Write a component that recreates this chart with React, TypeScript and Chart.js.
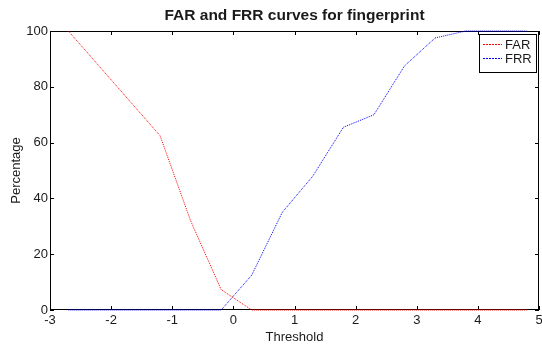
import { useEffect, useRef } from "react";
import { Chart, registerables } from "chart.js";

Chart.register(...registerables);

// Threshold values at which the error rates were sampled
const thresholds = [-2.7, -2.2, -1.7, -1.2, -0.7, -0.2, 0.3, 0.8, 1.3, 1.8, 2.3, 2.8, 3.3, 3.8, 4.3, 4.8];
// False acceptance rate (%)
const farValues = [100, 87.5, 75, 62.5, 32, 7.3, 0, 0, 0, 0, 0, 0, 0, 0, 0, 0];
// False rejection rate (%)
const frrValues = [0, 0, 0, 0, 0, 0, 12.5, 35, 48, 65.5, 70, 87.5, 97.5, 100, 100, 100];

const xTicks = [-3, -2, -1, 0, 1, 2, 3, 4, 5];
const yTicks = [0, 20, 40, 60, 80, 100];
const seriesNames = ["FAR", "FRR"];
const seriesColors = ["#ff0000", "#0000ff"];

const titleText = "FAR and FRR curves for fingerprint";
const xLabel = "Threshold";
const yLabel = "Percentage";

const FONT = "'Liberation Sans', Arial, Helvetica, sans-serif";
const TEXT = "#1a1a1a";

// Box around the axes with inward ticks on all four sides
const framePlugin = {
  id: "frame",
  beforeDatasetsDraw(chart: any) {
    const { ctx, chartArea, scales } = chart;
    const { left, right, top, bottom } = chartArea;
    ctx.save();
    ctx.strokeStyle = "#000";
    ctx.lineWidth = 1;
    ctx.strokeRect(Math.round(left) + 0.5, Math.round(top) + 0.5, Math.round(right - left) - 1, Math.round(bottom - top) - 1);
    ctx.beginPath();
    const tl = 4;
    for (const v of xTicks) {
      const px = Math.round(scales.x.getPixelForValue(v)) + 0.5;
      ctx.moveTo(px, bottom);
      ctx.lineTo(px, bottom - tl);
      ctx.moveTo(px, top);
      ctx.lineTo(px, top + tl);
    }
    for (const v of yTicks) {
      const py = Math.round(scales.y.getPixelForValue(v)) + 0.5;
      ctx.moveTo(left, py);
      ctx.lineTo(left + tl, py);
      ctx.moveTo(right, py);
      ctx.lineTo(right - tl, py);
    }
    ctx.stroke();
    ctx.restore();
  },
  afterDatasetsDraw(chart: any) {
    const { ctx, chartArea } = chart;
    const { left, right, top } = chartArea;
    ctx.save();
    // title
    ctx.fillStyle = TEXT;
    ctx.font = `bold 15.5px ${FONT}`;
    ctx.textAlign = "center";
    ctx.textBaseline = "alphabetic";
    ctx.fillText(titleText, (left + right) / 2, 20);
    // x axis label
    ctx.font = `13px ${FONT}`;
    ctx.fillText(xLabel, (left + right) / 2, 341);
    // y axis label
    ctx.save();
    ctx.translate(19.5, (top + chartArea.bottom) / 2);
    ctx.rotate(-Math.PI / 2);
    ctx.fillText(yLabel, 0, 0);
    ctx.restore();

    // legend
    const bx = 479.5, by = 34.5, bw = 57, bh = 38;
    ctx.fillStyle = "#fff";
    ctx.fillRect(bx, by, bw, bh);
    ctx.strokeStyle = "#000";
    ctx.lineWidth = 1;
    ctx.strokeRect(bx, by, bw, bh);
    const rows = [44.5, 58.5];
    seriesNames.forEach((name, i) => {
      // dotted sample line in the series colour
      ctx.save();
      ctx.strokeStyle = seriesColors[i];
      ctx.lineWidth = 1;
      ctx.setLineDash([2, 1]);
      ctx.beginPath();
      ctx.moveTo(483, rows[i]);
      ctx.lineTo(502, rows[i]);
      ctx.stroke();
      ctx.restore();
      ctx.fillStyle = TEXT;
      ctx.font = `13px ${FONT}`;
      ctx.textAlign = "left";
      ctx.textBaseline = "middle";
      ctx.fillText(name, 505, rows[i] + 0.5);
    });
    ctx.restore();
  },
};

export default function App() {
  const canvasRef = useRef<HTMLCanvasElement | null>(null);

  useEffect(() => {
    if (!canvasRef.current) return;
    const makeSet = (label: string, values: number[], color: string) => ({
      label,
      data: thresholds.map((t, i) => ({ x: t, y: values[i] })),
      borderColor: color,
      backgroundColor: color,
      borderWidth: 1,
      borderDash: [1, 1],
      pointRadius: 0,
      tension: 0,
      fill: false,
      clip: false as any,
    });
    const chart = new Chart(canvasRef.current, {
      type: "line",
      data: {
        datasets: [
          makeSet(seriesNames[0], farValues, seriesColors[0]),
          makeSet(seriesNames[1], frrValues, seriesColors[1]),
        ],
      },
      options: {
        responsive: true,
        maintainAspectRatio: false,
        animation: false,
        layout: { padding: { top: 31, right: 3, left: 0, bottom: 0 } },
        plugins: {
          legend: { display: false },
          title: { display: false },
          tooltip: { enabled: false },
        },
        scales: {
          x: {
            type: "linear",
            min: -3,
            max: 5,
            grid: { display: false, drawTicks: false },
            border: { display: false },
            afterBuildTicks: (s: any) => {
              s.ticks = xTicks.map((v) => ({ value: v }));
            },
            afterFit: (s: any) => {
              s.height = 35;
              s.paddingLeft = 0;
              s.paddingRight = 0;
            },
            ticks: {
              color: TEXT,
              font: { family: FONT, size: 13 },
              padding: 3,
              maxRotation: 0,
              autoSkip: false,
            },
          },
          y: {
            type: "linear",
            min: 0,
            max: 100,
            grid: { display: false, drawTicks: false },
            border: { display: false },
            afterBuildTicks: (s: any) => {
              s.ticks = yTicks.map((v) => ({ value: v }));
            },
            afterFit: (s: any) => {
              s.width = 50;
              s.paddingTop = 0;
              s.paddingBottom = 0;
            },
            ticks: {
              color: TEXT,
              font: { family: FONT, size: 13 },
              padding: 2,
              autoSkip: false,
            },
          },
        },
      },
      plugins: [framePlugin],
    });
    return () => chart.destroy();
  }, []);

  return (
    <div style={{ position: "fixed", left: 0, top: 0, width: 542, height: 345, background: "#fff" }}>
      <canvas ref={canvasRef} />
    </div>
  );
}
